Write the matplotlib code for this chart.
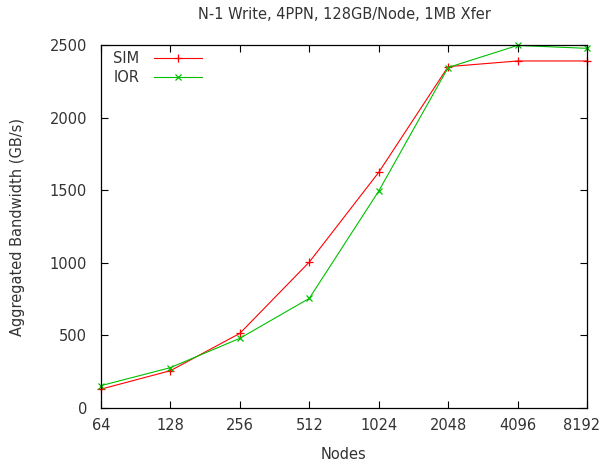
import matplotlib
matplotlib.use("Agg")
import matplotlib.pyplot as plt
from matplotlib.transforms import ScaledTranslation

nodes = [64, 128, 256, 512, 1024, 2048, 4096, 8192]
sim_bw = [130, 257, 514, 1005, 1623, 2351, 2390, 2390]
ior_bw = [154, 278, 480, 755, 1494, 2345, 2497, 2477]
y_ticks = [0, 500, 1000, 1500, 2000, 2500]

plt.rcParams['font.family'] = ['DejaVu Sans']
plt.rcParams['font.size'] = 10.5

fig = plt.figure(figsize=(6.02, 4.65), dpi=100)
ax = fig.add_axes([101 / 602, 1 - 408 / 465, 486 / 602, 363 / 465])

ax.plot(nodes, sim_bw, color='#ff0000', lw=0.8, marker='+', ms=5.5, mew=0.9,
        label='SIM', clip_on=False)
ax.plot(nodes, ior_bw, color='#00c000', lw=0.8, marker='x', ms=4.5, mew=0.9,
        label='IOR', clip_on=False)

ax.set_xscale('log', base=2)
ax.set_xlim(64, 8192)
ax.set_ylim(0, 2500)
ax.set_xticks(nodes)
ax.set_xticklabels([str(n) for n in nodes])
ax.minorticks_off()
ax.set_yticks(y_ticks)
ax.tick_params(direction='in', length=5, width=0.8, top=True, right=True,
               colors='black', labelcolor='#333333', labelsize=10.5)
ax.tick_params(axis='x', pad=7)
ax.tick_params(axis='y', pad=10)
for s in ax.spines.values():
    s.set_linewidth(0.9)

# last x label sits a bit left so it stays on the canvas
last = ax.get_xticklabels()[-1]
last.set_transform(last.get_transform() + ScaledTranslation(-5 / 100, 0, fig.dpi_scale_trans))

ax.set_title('N-1 Write, 4PPN, 128GB/Node, 1MB Xfer', fontsize=10.5,
             color='#333333', pad=19)
ax.set_xlabel('Nodes', fontsize=10.5, color='#333333', labelpad=10)
ax.set_ylabel('Aggregated Bandwidth (GB/s)', fontsize=10.5, color='#333333',
              labelpad=18)

leg = ax.legend(loc='upper left', bbox_to_anchor=(0.013, 1.0), frameon=False,
                markerfirst=False, handlelength=3.3, borderaxespad=0,
                labelspacing=0.3, handletextpad=1.0, fontsize=10.5)
for t in leg.get_texts():
    t.set_color('#333333')

fig.savefig('out.png', dpi=100)
